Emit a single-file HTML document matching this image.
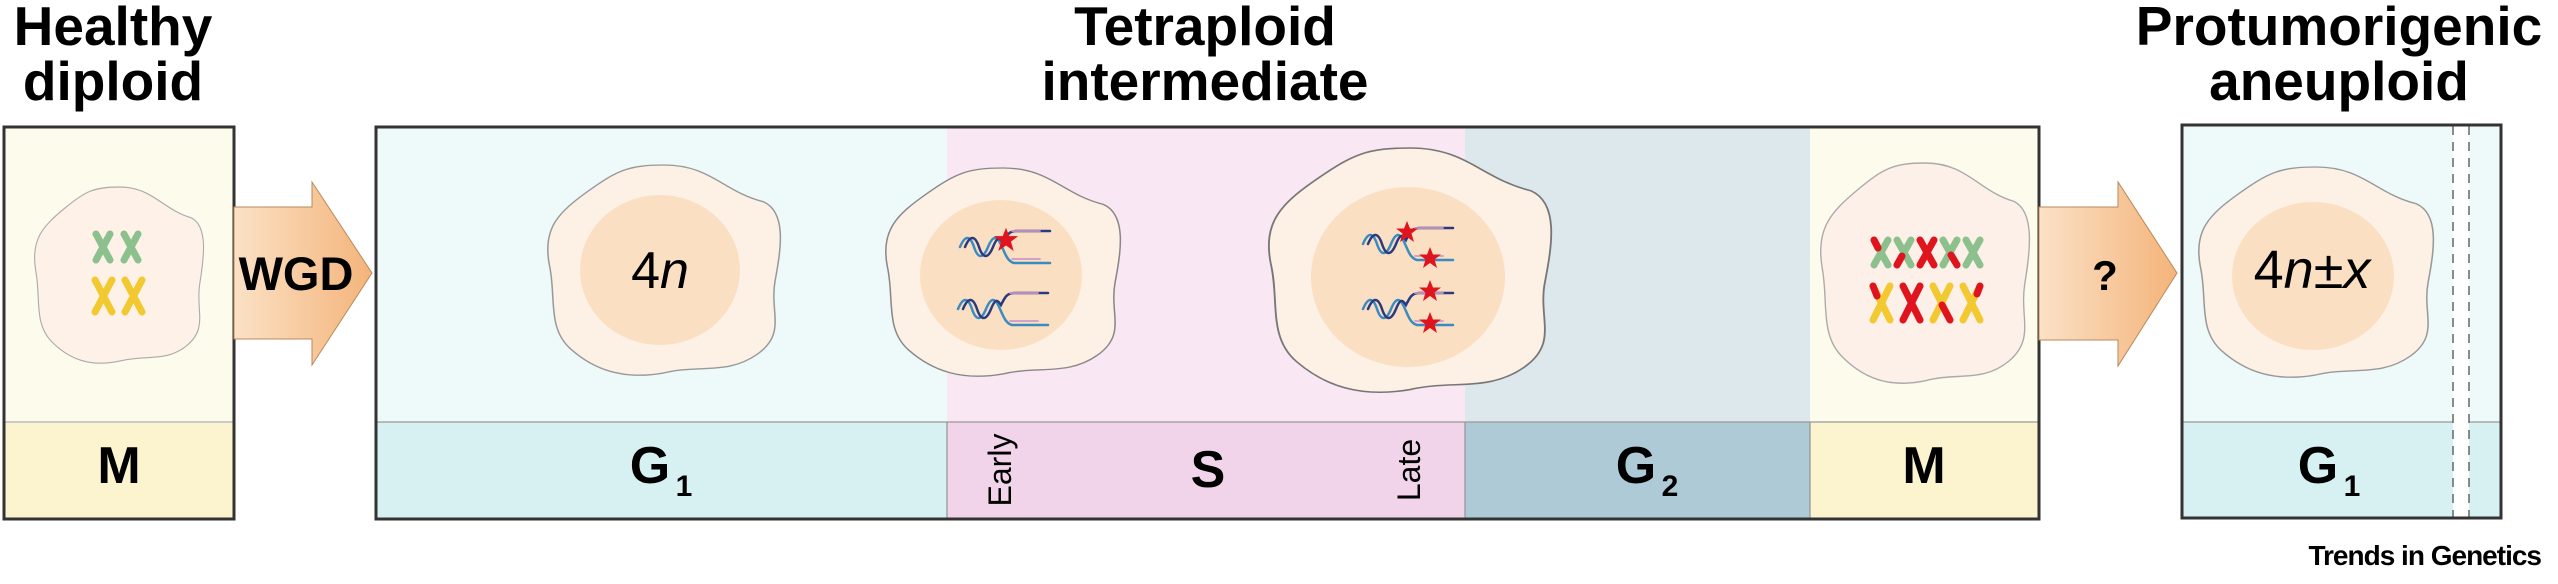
<!DOCTYPE html>
<html><head><meta charset="utf-8"><style>
html,body{margin:0;padding:0;background:#fff;}
svg{display:block;}
text{font-family:"Liberation Sans",Arial,sans-serif;}
</style></head><body>
<svg width="2558" height="584" viewBox="0 0 2558 584" xmlns="http://www.w3.org/2000/svg">
<defs>
<linearGradient id="arr" x1="0" x2="1" y1="0" y2="0">
<stop offset="0" stop-color="#fbe1c6"/><stop offset="1" stop-color="#f4b47a"/>
</linearGradient>
<path id="blob" d="M0,-100 C40,-100 50,-75 85,-65 C105,-55 100,-20 95,10 C90,40 105,60 80,80 C55,100 30,90 0,98 C-35,105 -60,95 -80,75 C-100,55 -92,25 -98,-5 C-104,-40 -90,-55 -65,-75 C-40,-95 -30,-100 0,-100Z"/>
<g id="fork" fill="none" stroke-linecap="round">
<path d="M0,4 c5,-12 10,-12 14,0 s9,12 14,0 s9,-12 14,0 c3,6 5,14 12,16 l36,0" stroke="#3a8cc0" stroke-width="2.5"/>
<path d="M5,4 c5,-12 10,-12 14,0 s9,12 14,0 c4,-10 6,-10 10,-4 c4,-8 6,-12 13,-12 l34,0" stroke="#2a3a80" stroke-width="2.5"/>
<path d="M52,-12 l28,0 M52,16 l28,0" stroke="#c99ac7" stroke-width="1.8"/>
</g>
<polygon id="star" points="0,-11 3,-3.5 11,-3.5 4.5,1.5 7,10 0,5 -7,10 -4.5,1.5 -11,-3.5 -3,-3.5" fill="#e0141e"/>
</defs>

<!-- Titles -->
<text x="113" y="45" font-size="55" font-weight="bold" text-anchor="middle">Healthy</text>
<text x="113" y="100" font-size="55" font-weight="bold" text-anchor="middle">diploid</text>
<text x="1205" y="45" font-size="55" font-weight="bold" text-anchor="middle">Tetraploid</text>
<text x="1205" y="100" font-size="55" font-weight="bold" text-anchor="middle">intermediate</text>
<text x="2339" y="45" font-size="55" font-weight="bold" text-anchor="middle">Protumorigenic</text>
<text x="2339" y="100" font-size="55" font-weight="bold" text-anchor="middle">aneuploid</text>

<!-- Left box -->
<rect x="4" y="127" width="230" height="295" fill="#fdfbec"/>
<rect x="4" y="422" width="230" height="97" fill="#fcf3cf"/>
<line x1="4" y1="422" x2="234" y2="422" stroke="#bbb" stroke-width="1.5"/>
<rect x="4" y="127" width="230" height="392" fill="none" stroke="#333" stroke-width="3"/>
<text x="119" y="483" font-size="52" font-weight="bold" text-anchor="middle">M</text>
<use href="#blob" transform="translate(119,275) scale(0.85,0.88)" fill="#fdf1e8" stroke="#aaa" stroke-width="1.3" vector-effect="non-scaling-stroke"/>
<g stroke-linecap="round" fill="none" stroke-width="7">
<g stroke="#8cc08c"><path d="M96,234 L110,260 M110,234 L96,260"/><path d="M124,234 L138,260 M138,234 L124,260"/></g>
<g stroke="#f2c930"><path d="M95,280 L112,312 M112,280 L95,312"/><path d="M125,280 L142,312 M142,280 L125,312"/></g>
</g>

<!-- WGD arrow -->
<polygon points="234,207 312,207 312,182 372,273 312,365 312,339 234,339" fill="url(#arr)" stroke="#b8895c" stroke-width="1"/>
<text x="296" y="290" font-size="47" font-weight="bold" text-anchor="middle">WGD</text>

<!-- Main box columns -->
<rect x="376" y="127" width="571" height="295" fill="#eefafa"/>
<rect x="947" y="127" width="518" height="295" fill="#f9e7f3"/>
<rect x="1465" y="127" width="345" height="295" fill="#dde8ec"/>
<rect x="1810" y="127" width="229" height="295" fill="#fdfbec"/>
<rect x="376" y="422" width="571" height="97" fill="#d7f1f2"/>
<rect x="947" y="422" width="518" height="97" fill="#f2d4ea"/>
<rect x="1465" y="422" width="345" height="97" fill="#aecad6"/>
<rect x="1810" y="422" width="229" height="97" fill="#fcf3cf"/>
<g stroke="#999" stroke-width="1.3">
<line x1="376" y1="422" x2="2039" y2="422"/>
<line x1="947" y1="422" x2="947" y2="519"/>
<line x1="1465" y1="422" x2="1465" y2="519"/>
<line x1="1810" y1="422" x2="1810" y2="519"/>
</g>
<rect x="376" y="127" width="1663" height="392" fill="none" stroke="#333" stroke-width="3"/>

<!-- labels -->
<text x="650" y="483" font-size="52" font-weight="bold" text-anchor="middle">G</text>
<text x="684" y="496" font-size="30" font-weight="bold" text-anchor="middle">1</text>
<text x="1208" y="487" font-size="52" font-weight="bold" text-anchor="middle">S</text>
<text transform="translate(1011,470) rotate(-90)" font-size="32" text-anchor="middle">Early</text>
<text transform="translate(1420,470) rotate(-90)" font-size="32" text-anchor="middle">Late</text>
<text x="1636" y="483" font-size="52" font-weight="bold" text-anchor="middle">G</text>
<text x="1670" y="496" font-size="30" font-weight="bold" text-anchor="middle">2</text>
<text x="1924" y="483" font-size="52" font-weight="bold" text-anchor="middle">M</text>

<!-- G1 cell -->
<use href="#blob" transform="translate(664,270) scale(1.17,1.05)" fill="#fdf0e5" stroke="#999" stroke-width="1.3" vector-effect="non-scaling-stroke"/>
<ellipse cx="660" cy="270" rx="80" ry="75" fill="#fbdfc2"/>
<text x="660" y="288" font-size="52" text-anchor="middle">4<tspan font-style="italic">n</tspan></text>

<!-- Early S cell -->
<use href="#blob" transform="translate(1003,272) scale(1.18,1.04)" fill="#fdf0e5" stroke="#888" stroke-width="1.3" vector-effect="non-scaling-stroke"/>
<ellipse cx="1001" cy="275" rx="81" ry="75" fill="#fbdfc2"/>
<use href="#fork" transform="translate(960,243)"/>
<use href="#fork" transform="translate(958,305)"/>
<use href="#star" transform="translate(1006,240) scale(1.1)" fill="#e24665"/>

<!-- Late S cell -->
<use href="#blob" transform="translate(1410,270) scale(1.42,1.22)" fill="#fdf0e5" stroke="#777" stroke-width="1.3" vector-effect="non-scaling-stroke"/>
<ellipse cx="1408" cy="277" rx="97" ry="90" fill="#fbdfc2"/>
<use href="#fork" transform="translate(1363,240)"/>
<use href="#fork" transform="translate(1363,305)"/>
<use href="#star" transform="translate(1407,232)"/>
<use href="#star" transform="translate(1430,258)"/>
<use href="#star" transform="translate(1430,291)"/>
<use href="#star" transform="translate(1430,323)"/>

<!-- M cell -->
<use href="#blob" transform="translate(1925,273) scale(1.05,1.1)" fill="#fdf0e8" stroke="#aaa" stroke-width="1.3" vector-effect="non-scaling-stroke"/>
<g stroke-linecap="round" fill="none" stroke-width="7">
<g stroke="#8cc08c">
<path d="M1874,240 L1888,265 M1888,240 L1874,265"/>
<path d="M1897,240 L1911,265 M1911,240 L1897,265"/>
<path d="M1943,240 L1957,265 M1957,240 L1943,265"/>
<path d="M1966,240 L1980,265 M1980,240 L1966,265"/>
</g>
<path d="M1920,240 L1934,265 M1934,240 L1920,265" stroke="#e0141e"/>
<path d="M1874,240 L1878,248 M1902,256 L1897,265 M1951,255 L1957,265" stroke="#e0141e"/>
<g stroke="#f2c930">
<path d="M1873,286 L1890,320 M1890,286 L1873,320"/>
<path d="M1933,286 L1950,320 M1950,286 L1933,320"/>
<path d="M1963,286 L1980,320 M1980,286 L1963,320"/>
</g>
<path d="M1903,286 L1920,320 M1920,286 L1903,320" stroke="#e0141e"/>
<path d="M1873,286 L1877,296 M1942,305 L1950,320 M1980,286 L1977,294" stroke="#e0141e"/>
</g>

<!-- ? arrow -->
<polygon points="2039,207 2118,207 2118,182 2177,273 2118,366 2118,340 2039,340" fill="url(#arr)" stroke="#b8895c" stroke-width="1"/>
<text x="2105" y="290" font-size="42" font-weight="bold" text-anchor="middle">?</text>

<!-- Right box -->
<rect x="2182" y="125" width="319" height="297" fill="#eefafa"/>
<rect x="2182" y="422" width="319" height="96" fill="#d7f1f2"/>
<line x1="2182" y1="422" x2="2501" y2="422" stroke="#999" stroke-width="1.3"/>
<rect x="2453" y="126" width="16" height="391" fill="#fff"/>
<line x1="2453" y1="126" x2="2453" y2="517" stroke="#666" stroke-width="1.5" stroke-dasharray="9,7"/>
<line x1="2469" y1="126" x2="2469" y2="517" stroke="#666" stroke-width="1.5" stroke-dasharray="9,7"/>
<rect x="2182" y="125" width="319" height="393" fill="none" stroke="#333" stroke-width="3"/>
<use href="#blob" transform="translate(2316,272) scale(1.18,1.05)" fill="#fdf0e5" stroke="#999" stroke-width="1.3" vector-effect="non-scaling-stroke"/>
<ellipse cx="2313" cy="276" rx="81" ry="74" fill="#fbdfc2"/>
<text x="2312" y="288" font-size="54" text-anchor="middle">4<tspan font-style="italic">n</tspan>±<tspan font-style="italic">x</tspan></text>
<text x="2318" y="483" font-size="52" font-weight="bold" text-anchor="middle">G</text>
<text x="2352" y="496" font-size="30" font-weight="bold" text-anchor="middle">1</text>

<text x="2541" y="565" font-size="28" font-weight="bold" text-anchor="end" letter-spacing="-1">Trends in Genetics</text>
</svg>
</body></html>
